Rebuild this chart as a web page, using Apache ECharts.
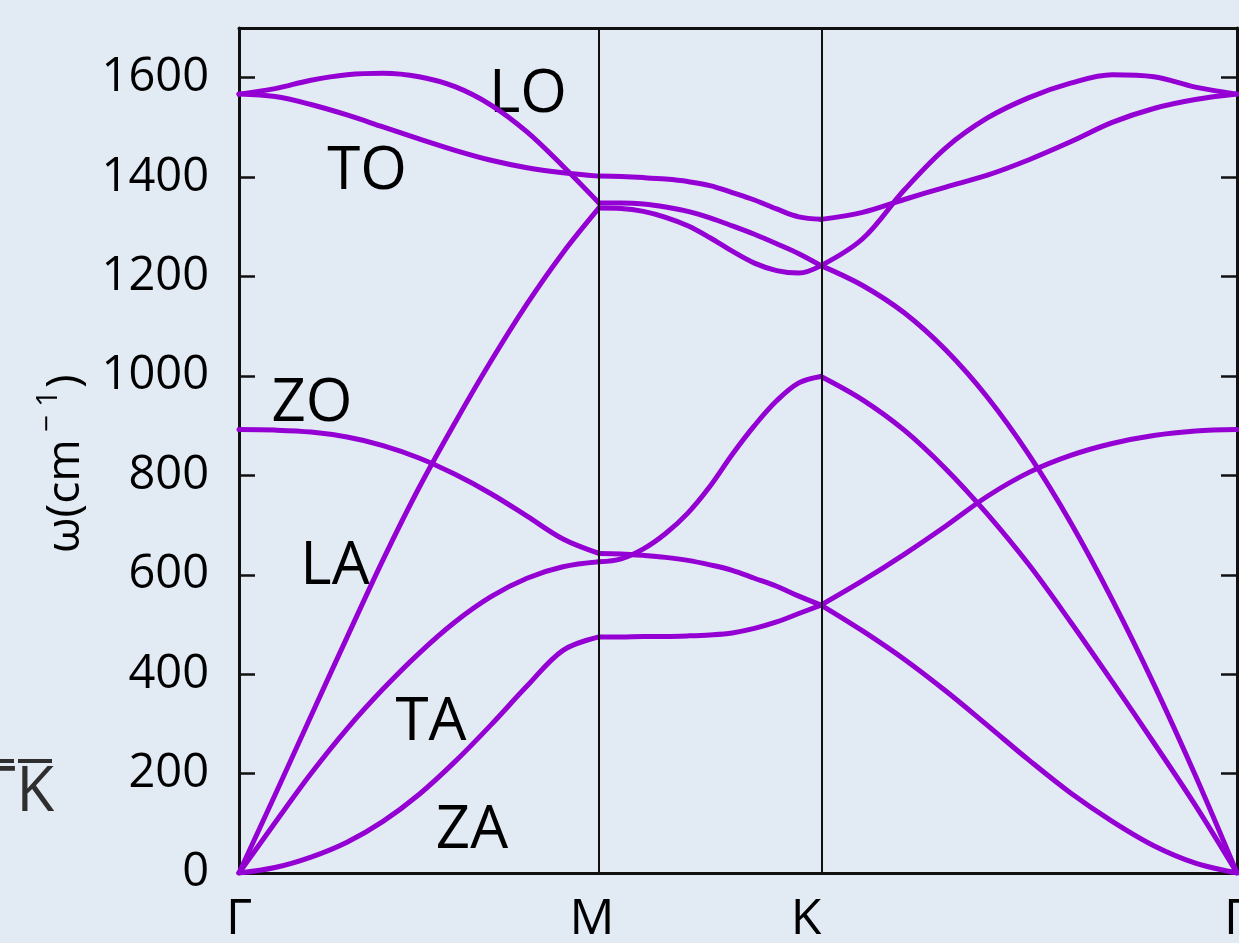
<!DOCTYPE html>
<html>
<head>
<meta charset="utf-8">
<title>Graphene phonon dispersion</title>
<script src="https://cdn.jsdelivr.net/npm/echarts@6/dist/echarts.min.js"></script>
<style>
  html, body { margin: 0; padding: 0; background: #e2eaf4; }
  #chart { width: 1239px; height: 943px; }
</style>
</head>
<body>
<div id="chart"></div>
<script>
// High-symmetry points along the path Γ → M → K → Γ (path length, ΓM = 1)
const kNodes = [0, 1.0, 1.6167, 2.7722];
const kLabels = ['Γ', 'M', 'K', 'Γ'];

// Fractional positions sampled inside every path segment
const tSamples = [0, 0.1, 0.2, 0.3, 0.4, 0.5, 0.6, 0.7, 0.8, 0.9, 1.0];

// Phonon frequencies ω (cm⁻¹); 11 samples per segment: Γ–M, M–K, K–Γ
const ZA = [0, 11, 32, 62, 104, 158, 224, 298, 376, 448, 475,
            475, 475, 476, 476, 477, 479, 483, 492, 505, 522, 539,
            539, 487, 430, 366, 297, 227, 161, 104, 55, 20, 0];
const TA = [0, 101, 200, 290, 370, 442, 505, 556, 593, 616, 626,
            626, 632, 652, 683, 724, 778, 842, 900, 950, 986, 999,
            999, 952, 891, 813, 722, 620, 505, 385, 262, 136, 0];
const LA = [0, 157, 316, 474, 630, 775, 906, 1030, 1145, 1248, 1338,
            1338, 1337, 1331, 1319, 1302, 1278, 1251, 1227, 1212, 1207, 1222,
            1222, 1182, 1127, 1052, 957, 841, 705, 550, 380, 196, 0];
const ZO = [892, 891, 887, 877, 860, 835, 802, 763, 718, 672, 643,
            643, 642, 639, 635, 629, 620, 609, 593, 577, 557, 539,
            539, 588, 641, 698, 758, 806, 840, 864, 880, 889, 892];
const TO = [1567, 1562, 1546, 1525, 1501, 1477, 1454, 1434, 1419, 1409, 1402,
            1402, 1401, 1399, 1396, 1391, 1383, 1369, 1354, 1336, 1320, 1315,
            1315, 1329, 1355, 1380, 1404, 1435, 1471, 1510, 1538, 1556, 1567];
const LO = [1567, 1578, 1595, 1606, 1609, 1602, 1582, 1545, 1491, 1422, 1348,
            1348, 1348, 1346, 1340, 1331, 1318, 1302, 1285, 1266, 1246, 1222,
            1222, 1276, 1374, 1459, 1519, 1560, 1589, 1606, 1602, 1581, 1567];

const bandNames = ['ZA', 'TA', 'LA', 'ZO', 'TO', 'LO'];
const bandValues = [ZA, TA, LA, ZO, TO, LO];

// Frequency axis range and tick step
const wMin = 0, wMax = 1700, wStep = 200;

const FONT = '"Open Sans", "Noto Sans", sans-serif';
const BAND_COLOR = '#9400d3';
const INK = '#111111';

const chart = echarts.init(document.getElementById('chart'), null, { renderer: 'canvas' });

// One series per band and segment so the curves keep their kinks at M and K
const series = [];
bandValues.forEach((vals, b) => {
  for (let s = 0; s < kNodes.length - 1; s++) {
    const k0 = kNodes[s], k1 = kNodes[s + 1];
    const data = tSamples.map((t, i) => [k0 + t * (k1 - k0), vals[s * tSamples.length + i]]);
    series.push({
      name: bandNames[b],
      type: 'line',
      data: data,
      smooth: 0.35,
      symbol: 'none',
      z: 3,
      lineStyle: { color: BAND_COLOR, width: 5, cap: 'round', join: 'round' },
      silent: true
    });
  }
});

// Vertical guide lines at the interior high-symmetry points
series.push({
  type: 'line',
  data: [],
  z: 1,
  silent: true,
  markLine: {
    symbol: 'none',
    silent: true,
    label: { show: false },
    lineStyle: { color: INK, width: 2, type: 'solid' },
    data: kNodes.slice(1, -1).map(k => ({ xAxis: k }))
  }
});

// Text measurement for the rotated axis title
const measureCtx = document.createElement('canvas').getContext('2d');
function textWidth(str, size) {
  measureCtx.font = size + 'px ' + FONT;
  return measureCtx.measureText(str).width;
}
const nameMain = 'ω(cm';
const nameMinus = '−';
const nameOne = '1';
const nameSize = 46, supSize = 30;
const wMain = textWidth(nameMain, nameSize);
const wMinus = textWidth(nameMinus, supSize);
const wOne = textWidth(nameOne, supSize);

const labelStyle = (txt, x, y) => ({
  type: 'text', x: x, y: y, silent: true,
  style: { text: txt, fontFamily: FONT, fontSize: 60, fill: '#000', align: 'center', verticalAlign: 'middle' }
});

const option = {
  backgroundColor: '#e2eaf4',
  animation: false,
  grid: { left: 239, right: 2, top: 28, bottom: 70, outerBoundsMode: 'none' },
  xAxis: [{
    type: 'value',
    min: kNodes[0],
    max: kNodes[kNodes.length - 1],
    axisLine: { show: true, onZero: false, lineStyle: { color: INK, width: 3 } },
    axisTick: { show: false },
    splitLine: { show: false },
    axisLabel: {
      customValues: kNodes,
      margin: 22,
      color: '#000',
      fontFamily: FONT,
      fontSize: 50,
      formatter: function (v) {
        const i = kNodes.findIndex(n => Math.abs(n - v) < 1e-6);
        if (i < 0) return '';
        const tag = i === 1 ? 'm' : (i === 2 ? 'k' : 'g');
        return '{' + tag + '|' + kLabels[i] + '}';
      },
      rich: {
        g: { fontFamily: FONT, fontSize: 50, color: '#000' },
        m: { fontFamily: FONT, fontSize: 50, color: '#000', padding: [0, 14, 0, 0] },
        k: { fontFamily: FONT, fontSize: 50, color: '#000', padding: [0, 30, 0, 0] }
      }
    }
  }, {
    type: 'value',
    position: 'top',
    min: kNodes[0],
    max: kNodes[kNodes.length - 1],
    axisLine: { show: true, onZero: false, lineStyle: { color: INK, width: 3 } },
    axisTick: { show: false },
    axisLabel: { show: false },
    splitLine: { show: false }
  }],
  yAxis: [{
    type: 'value',
    min: wMin,
    max: wMax,
    interval: wStep,
    axisLine: { show: true, onZero: false, lineStyle: { color: INK, width: 3 } },
    axisTick: { show: true, inside: true, length: 16, lineStyle: { color: INK, width: 2.5 } },
    splitLine: { show: false },
    axisLabel: {
      showMaxLabel: false,
      margin: 30,
      color: '#000',
      fontFamily: FONT,
      fontSize: 47,
      formatter: v => String(v)
    }
  }, {
    type: 'value',
    position: 'right',
    min: wMin,
    max: wMax,
    interval: wStep,
    axisLine: { show: true, onZero: false, lineStyle: { color: INK, width: 3 } },
    axisTick: { show: true, inside: true, length: 16, lineStyle: { color: INK, width: 2.5 } },
    splitLine: { show: false },
    axisLabel: { show: false }
  }],
  series: series,
  graphic: [
    // Axis title ω(cm⁻¹), read bottom to top
    {
      type: 'group',
      x: 66, y: 553,
      rotation: Math.PI / 2,
      silent: true,
      children: [
        { type: 'text', x: 0, y: 0,
          style: { text: nameMain, fontFamily: FONT, fontSize: nameSize, fill: '#000', align: 'left', verticalAlign: 'middle' } },
        { type: 'text', x: wMain + 7, y: -18,
          style: { text: nameMinus, fontFamily: FONT, fontSize: supSize, fill: '#000', align: 'left', verticalAlign: 'middle' } },
        { type: 'text', x: wMain + 7 + wMinus + 8, y: -18,
          style: { text: nameOne, fontFamily: FONT, fontSize: supSize, fill: '#000', align: 'left', verticalAlign: 'middle' } },
        { type: 'text', x: wMain + 7 + wMinus + 8 + wOne + 2, y: 0,
          style: { text: ')', fontFamily: FONT, fontSize: nameSize, fill: '#000', align: 'left', verticalAlign: 'middle' } }
      ]
    },
    // Edge of the neighbouring panel's path label
    { type: 'text', x: -16, y: 793, silent: true,
      style: { text: 'ΓK', fontFamily: FONT, fontSize: 62, fill: '#2e2e2e', align: 'left', verticalAlign: 'middle' } },
    { type: 'rect', silent: true, shape: { x: 0, y: 759, width: 14, height: 4 }, style: { fill: '#2e2e2e' } },
    { type: 'rect', silent: true, shape: { x: 18, y: 759, width: 34, height: 4 }, style: { fill: '#2e2e2e' } },
    // Branch labels
    labelStyle('LO', 528, 95),
    labelStyle('TO', 367, 172),
    labelStyle('ZO', 312, 404),
    labelStyle('LA', 335, 567),
    labelStyle('TA', 431, 723),
    labelStyle('ZA', 472, 831)
  ]
};

chart.setOption(option);
</script>
</body>
</html>
